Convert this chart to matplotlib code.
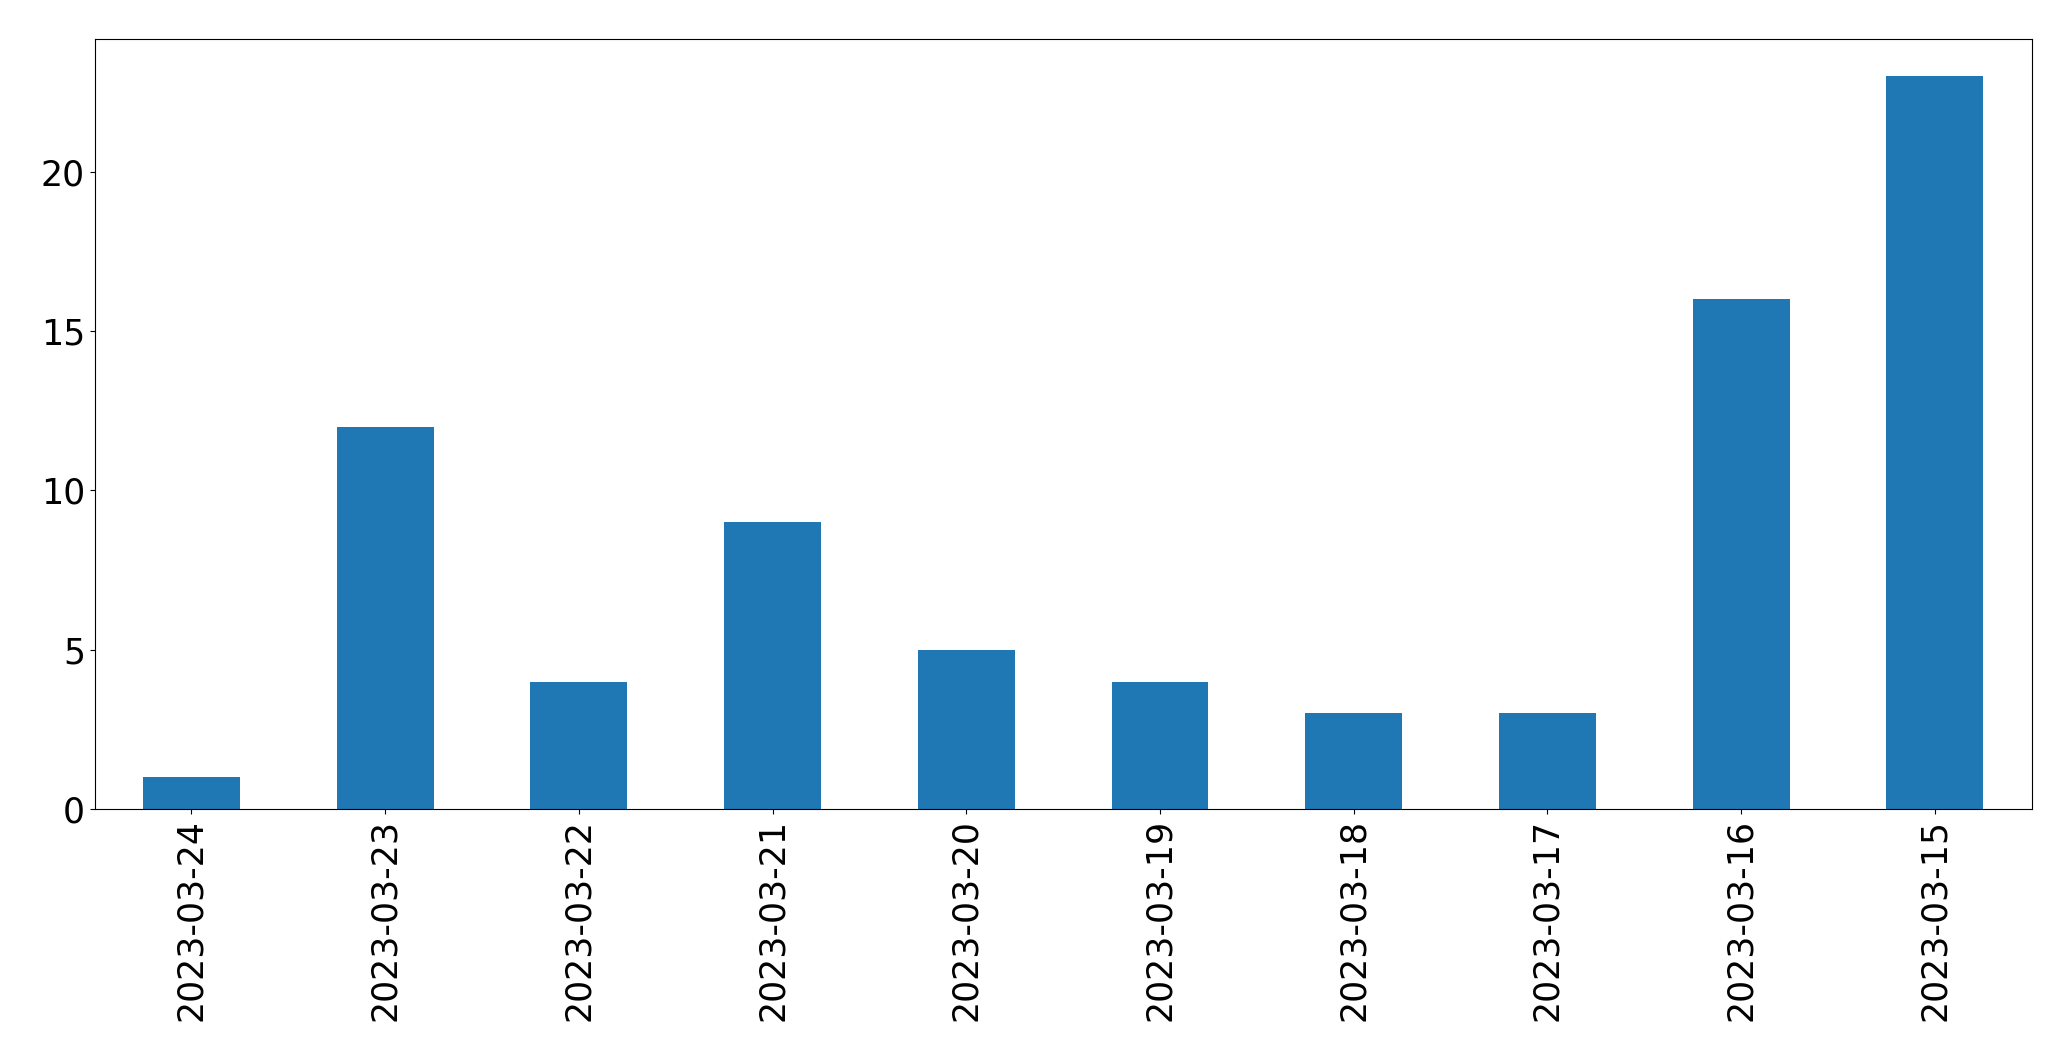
import matplotlib
matplotlib.use("Agg")
import matplotlib.pyplot as plt
import pandas as pd

# dias e contagens
dias = ["2023-03-24", "2023-03-23", "2023-03-22", "2023-03-21", "2023-03-20",
        "2023-03-19", "2023-03-18", "2023-03-17", "2023-03-16", "2023-03-15"]
contagens = [1, 12, 4, 9, 5, 4, 3, 3, 16, 23]

serie = pd.Series(contagens, index=dias)

fig, ax = plt.subplots(figsize=(20.71, 10.61), dpi=100)
serie.plot(kind="bar", ax=ax, color="#1f77b4")
ax.tick_params(axis="both", labelsize=25)
plt.subplots_adjust(left=0.0457, right=0.981, top=0.963, bottom=0.2375)
fig.savefig("out.png", dpi=100)
